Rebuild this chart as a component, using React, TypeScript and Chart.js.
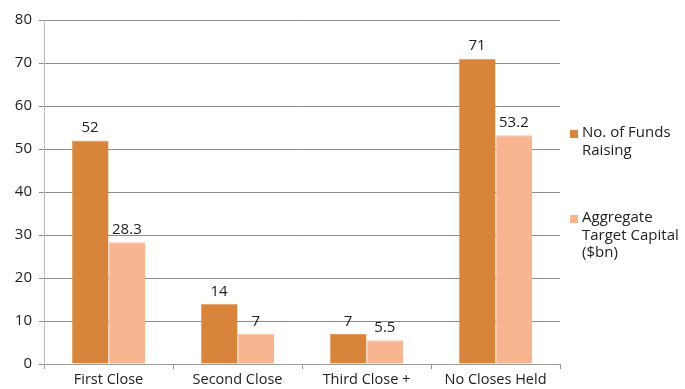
import React, { useEffect, useRef } from "react";
import { Chart, registerables } from "chart.js";

Chart.register(...registerables);

const categories = ["First Close", "Second Close", "Third Close +", "No Closes Held"];
const fundsRaising = [52, 14, 7, 71];
const targetCapital = [28.3, 7, 5.5, 53.2];
const seriesNames = [["No. of Funds", "Raising"], ["Aggregate", "Target Capital", "($bn)"]];
const yTicks = [0, 10, 20, 30, 40, 50, 60, 70, 80];

const ORANGE = "#D9843B";
const PINK = "#F9B590";
const FONT = "'Open Sans', 'DejaVu Sans', sans-serif";

const valueLabels = {
  id: "valueLabels",
  afterDatasetsDraw(chart: any) {
    const ctx = chart.ctx;
    ctx.save();
    ctx.font = `15px ${FONT}`;
    ctx.fillStyle = "#222";
    ctx.textAlign = "center";
    ctx.textBaseline = "bottom";
    chart.data.datasets.forEach((ds: any, i: number) => {
      const meta = chart.getDatasetMeta(i);
      meta.data.forEach((bar: any, j: number) => {
        ctx.fillText(String(ds.data[j]), bar.x, bar.y - 5);
      });
    });
    ctx.restore();
  },
};

const sideLegend = {
  id: "sideLegend",
  afterDraw(chart: any) {
    const ctx = chart.ctx;
    ctx.save();
    ctx.font = `15px ${FONT}`;
    ctx.textAlign = "left";
    ctx.textBaseline = "middle";
    const x = chart.chartArea.right + 10;
    const starts = [133, 218];
    const colors = [ORANGE, PINK];
    seriesNames.forEach((lines, i) => {
      ctx.fillStyle = colors[i];
      ctx.fillRect(x, starts[i] - 3, 8, 8);
      ctx.fillStyle = "#222";
      lines.forEach((t, k) => {
        ctx.fillText(t, x + 12, starts[i] + k * 17.5);
      });
    });
    ctx.restore();
  },
};

export default function App() {
  const ref = useRef<HTMLCanvasElement>(null);
  useEffect(() => {
    document.body.style.margin = "0";
    const chart = new Chart(ref.current!, {
      type: "bar",
      data: {
        labels: categories,
        datasets: [
          {
            label: seriesNames[0].join(" "),
            data: fundsRaising,
            backgroundColor: ORANGE,
            borderColor: "#E39A5C",
            borderWidth: { top: 1, left: 1, right: 0, bottom: 0 },
            categoryPercentage: 0.57,
            barPercentage: 1,
          },
          {
            label: seriesNames[1].join(" "),
            data: targetCapital,
            backgroundColor: PINK,
            borderColor: "#FBC7AA",
            borderWidth: { top: 1, left: 1, right: 0, bottom: 0 },
            categoryPercentage: 0.57,
            barPercentage: 1,
          },
        ],
      },
      options: {
        animation: false,
        responsive: false,
        layout: { padding: { top: 20, right: 125, left: 0, bottom: 0 } },
        plugins: { legend: { display: false }, tooltip: { enabled: false } },
        scales: {
          x: {
            grid: {
              display: true,
              drawOnChartArea: false,
              drawTicks: true,
              tickLength: 5,
              color: "#999",
              offset: true,
            },
            border: { color: "#999" },
            ticks: { color: "#222", font: { size: 14.5, family: FONT }, padding: 2 },
            afterFit(scale: any) {
              scale.height = 25;
            },
          },
          y: {
            min: 0,
            max: 80,
            afterBuildTicks(scale: any) {
              scale.ticks = yTicks.map((v) => ({ value: v }));
            },
            grid: { color: "#8c8c8c", tickLength: 5 },
            border: { color: "#bbb" },
            ticks: { color: "#222", font: { size: 15, family: FONT }, padding: 7 },
            afterFit(scale: any) {
              scale.width = 44;
            },
          },
        },
      },
      plugins: [valueLabels, sideLegend],
    });
    return () => chart.destroy();
  }, []);
  return (
    <div style={{ width: 685, height: 389 }}>
      <canvas ref={ref} width={685} height={389} style={{ display: "block" }} />
    </div>
  );
}
